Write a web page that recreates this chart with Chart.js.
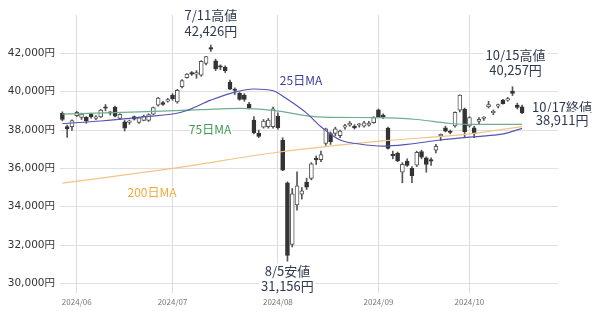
<!DOCTYPE html>
<html>
<head>
<meta charset="utf-8">
<script src="https://cdn.jsdelivr.net/npm/chart.js@4/dist/chart.umd.min.js"></script>
<style>
  html, body { margin: 0; padding: 0; background: #fff; }
  #wrap { width: 600px; height: 311px; }
</style>
</head>
<body>
<div id="wrap"><canvas id="chart"></canvas></div>
<script>
// 日経平均 日足 (2024/05/29 - 2024/10/17)
const dates = [
  '2024-05-29','2024-05-30','2024-05-31',
  '2024-06-03','2024-06-04','2024-06-05','2024-06-06','2024-06-07','2024-06-10','2024-06-11','2024-06-12','2024-06-13','2024-06-14',
  '2024-06-17','2024-06-18','2024-06-19','2024-06-20','2024-06-21','2024-06-24','2024-06-25','2024-06-26','2024-06-27','2024-06-28',
  '2024-07-01','2024-07-02','2024-07-03','2024-07-04','2024-07-05','2024-07-08','2024-07-09','2024-07-10','2024-07-11','2024-07-12',
  '2024-07-16','2024-07-17','2024-07-18','2024-07-19','2024-07-22','2024-07-23','2024-07-24','2024-07-25','2024-07-26','2024-07-29',
  '2024-07-30','2024-07-31',
  '2024-08-01','2024-08-02','2024-08-05','2024-08-06','2024-08-07','2024-08-08','2024-08-09','2024-08-13','2024-08-14','2024-08-15',
  '2024-08-16','2024-08-19','2024-08-20','2024-08-21','2024-08-22','2024-08-23','2024-08-26','2024-08-27','2024-08-28','2024-08-29',
  '2024-08-30',
  '2024-09-02','2024-09-03','2024-09-04','2024-09-05','2024-09-06','2024-09-09','2024-09-10','2024-09-11','2024-09-12','2024-09-13',
  '2024-09-17','2024-09-18','2024-09-19','2024-09-20','2024-09-24','2024-09-25','2024-09-26','2024-09-27','2024-09-30',
  '2024-10-01','2024-10-02','2024-10-03','2024-10-04','2024-10-07','2024-10-08','2024-10-09','2024-10-10','2024-10-11','2024-10-15',
  '2024-10-16','2024-10-17'
];
const opens = [
  38870, 38180, 38170,
  38750, 38660, 38660, 38820, 38610, 38690, 39150, 38900, 39180, 38610,
  38430, 38400, 38700, 38400, 38500, 38500, 38830, 39300, 39430, 39510,
  39820, 39470, 40260, 40730, 41000, 40920, 40860, 41480, 42280, 41610,
  41330, 41270, 40500, 40100, 39910, 39820, 39350, 38520, 37830, 38150,
  38180, 38170,
  38730, 37480, 35250, 32030, 34100, 34650, 35270, 35480, 36520, 36450,
  37300, 37820, 37820, 37700, 38150, 38250, 38200, 38250, 38200, 38250,
  38380,
  39050, 38780, 38100, 36700, 36780, 35800, 36380, 36000, 36170, 36870,
  36550, 36450, 36950, 37700, 38120, 37900, 38220, 39040, 39090,
  38220, 38120, 38450, 38600, 39210, 38900, 39250, 39560, 39560, 40030,
  39300, 39210
];
const highs = [
  38950, 38260, 38530,
  38980, 38880, 38700, 38880, 38760, 39080, 39330, 38960, 39250, 38850,
  38500, 38520, 38730, 38680, 38780, 38850, 39200, 39700, 39500, 39650,
  39900, 40120, 40630, 40950, 41050, 41100, 41620, 41850, 42426, 41700,
  41400, 41350, 40600, 40200, 39960, 39900, 39450, 38700, 38000, 38550,
  38600, 39200,
  38900, 37600, 35300, 34950, 35820, 35000, 35490, 36300, 36650, 36900,
  38100, 37900, 38150, 38000, 38300, 38450, 38280, 38350, 38450, 38450,
  38700,
  39100, 38850, 38150, 36900, 36850, 36300, 36500, 36100, 36900, 36950,
  36600, 36550, 37250, 37800, 38200, 38000, 38950, 39830, 39150,
  38700, 38200, 38650, 38700, 39500, 39050, 39350, 39600, 39700, 40257,
  39400, 39300
];
const lows = [
  38480, 37617, 37980,
  38700, 38550, 38350, 38620, 38540, 38650, 39000, 38780, 38690, 38560,
  37950, 38300, 38520, 38350, 38480, 38450, 38800, 39250, 39280, 39450,
  39550, 39400, 40200, 40700, 40850, 40700, 40800, 41400, 42100, 41100,
  41150, 41000, 40100, 39850, 39550, 39500, 39100, 37800, 37610, 38100,
  38100, 38100,
  38050, 35880, 31156, 31900, 33820, 34400, 34900, 35400, 36200, 36350,
  37200, 37250, 37700, 37600, 38050, 38200, 38050, 38150, 38150, 38200,
  38350,
  38650, 38600, 37000, 36500, 36350, 35247, 36100, 35250, 36100, 36500,
  35800, 36150, 36800, 37450, 37900, 37800, 38150, 38950, 37650,
  38150, 37600, 38300, 38500, 39150, 38800, 39150, 39350, 39500, 39800,
  39100, 38850
];
const closes = [
  38556, 38054, 38487,
  38923, 38837, 38490, 38703, 38683, 39038, 39134, 38876, 38720, 38814,
  38102, 38482, 38570, 38633, 38720, 38804, 39173, 39667, 39341, 39583,
  39631, 40074, 40580, 40913, 40912, 40960, 41580, 41831, 42224, 41190,
  41275, 41097, 40126, 40063, 39599, 39594, 39154, 37869, 37667, 38468,
  38525, 39101,
  38126, 35910, 31458, 34675, 35089, 34831, 35025, 36232, 36442, 36726,
  38062, 37388, 38062, 37951, 38211, 38364, 38110, 38288, 38371, 38362,
  38647,
  38700, 38686, 37047, 36657, 36391, 36215, 36159, 35619, 36833, 36581,
  36203, 36380, 37155, 37723, 37940, 37870, 38925, 39829, 37919,
  38651, 37808, 38552, 38635, 39332, 38937, 39277, 39380, 39605, 39910,
  39180, 38911
];

// 移動平均線 (チャートから読み取り)
const ma25Dates  = ['2024-05-29','2024-06-10','2024-06-21','2024-07-03','2024-07-11','2024-07-19','2024-07-25','2024-07-31','2024-08-05','2024-08-09','2024-08-15','2024-08-21','2024-08-27','2024-09-03','2024-09-10','2024-09-20','2024-10-01','2024-10-09','2024-10-11','2024-10-17'];
const ma25Values = [38340, 38470, 38690, 38940, 39560, 39980, 40140, 40050, 39600, 38880, 38170, 37480, 37270, 37160, 37250, 37480, 37630, 37760, 37850, 38090];
const ma75Dates  = ['2024-05-29','2024-06-20','2024-07-09','2024-07-22','2024-08-02','2024-08-08','2024-08-19','2024-09-02','2024-09-12','2024-09-25','2024-10-03','2024-10-17'];
const ma75Values = [38830, 38950, 39060, 39130, 38960, 38780, 38660, 38650, 38550, 38340, 38290, 38300];
const ma200Dates  = ['2024-05-29','2024-07-01','2024-08-01','2024-09-03','2024-10-01','2024-10-17'];
const ma200Values = [35230, 36000, 36840, 37430, 37800, 38180];

const yTicks = [30000, 32000, 34000, 36000, 38000, 40000, 42000];
const monthStarts = ['2024-06-03', '2024-07-01', '2024-08-01', '2024-09-02', '2024-10-01'];
const monthLabels = ['2024/06', '2024/07', '2024/08', '2024/09', '2024/10'];

const noteDates  = ['2024-07-11', '2024-08-05', '2024-10-15', '2024-10-17'];
const noteValues = [42426, 31156, 40257, 38911];
const noteTexts  = [['7/11高値', '42,426円'], ['8/5安値', '31,156円'], ['10/15高値', '40,257円'], ['10/17終値', '38,911円']];
const maNames = ['25日MA', '75日MA', '200日MA'];

// empty slots on the right for the closing label
const labels = dates.concat(['', '', '', '', '', '', '']);

const FONT = '"Noto Sans CJK JP", "Noto Sans", sans-serif';
const upFill = '#ffffff', downFill = '#333333';

const wickData = dates.map((d, i) => [lows[i], highs[i]]);
const bodyData = dates.map((d, i) => [opens[i], closes[i]]);
const isUp = dates.map((d, i) => closes[i] >= opens[i]);

const textPlugin = {
  id: 'notes',
  afterDatasetsDraw(chart) {
    const ctx = chart.ctx, xs = chart.scales.x, ys = chart.scales.y;
    const offs = [[0, -30, 15.5], [0, 10, 15], [3, -32, 15.5], [40, -5.5, 13]]; // dx, dy, line gap
    ctx.save();
    ctx.font = '13px ' + FONT;
    ctx.textAlign = 'center';
    ctx.textBaseline = 'middle';
    noteDates.forEach((d, i) => {
      const x = xs.getPixelForValue(dates.indexOf(d)) + offs[i][0];
      const y = ys.getPixelForValue(noteValues[i]) + offs[i][1];
      noteTexts[i].forEach((t, j) => {
        const ty = y + j * offs[i][2];
        const w = ctx.measureText(t).width;
        ctx.fillStyle = '#fff';
        ctx.fillRect(x - w / 2 - 2, ty - 8, w + 4, 16);
        ctx.fillStyle = '#2f3a4f';
        ctx.fillText(t, x, ty);
      });
    });
    // MA labels
    const maPos = [[301, 80], [210, 129], [152, 192]];
    const maCol = ['#3c3ca0', '#3f9a4f', '#f0aa3c'];
    ctx.font = '12px ' + FONT;
    maNames.forEach((t, i) => {
      ctx.lineWidth = 3;
      ctx.strokeStyle = 'rgba(255,255,255,0.9)';
      ctx.strokeText(t, maPos[i][0], maPos[i][1]);
      ctx.fillStyle = maCol[i];
      ctx.fillText(t, maPos[i][0], maPos[i][1]);
    });
    ctx.restore();
  }
};

new Chart(document.getElementById('chart'), {
  type: 'bar',
  data: {
    labels: labels,
    datasets: [
      { type: 'line', label: '25日MA', data: ma25Dates.map((d, i) => ({ x: d, y: ma25Values[i] })),
        borderColor: '#5454b4', borderWidth: 1.2, pointRadius: 0, cubicInterpolationMode: 'monotone', order: 0 },
      { type: 'line', label: '75日MA', data: ma75Dates.map((d, i) => ({ x: d, y: ma75Values[i] })),
        borderColor: '#6fae8c', borderWidth: 1.2, pointRadius: 0, cubicInterpolationMode: 'monotone', order: 0 },
      { type: 'line', label: '200日MA', data: ma200Dates.map((d, i) => ({ x: d, y: ma200Values[i] })),
        borderColor: '#f2c48a', borderWidth: 1.2, pointRadius: 0, cubicInterpolationMode: 'monotone', order: 0 },
      { label: 'body', data: bodyData, grouped: false, barThickness: 4, minBarLength: 1.5,
        backgroundColor: isUp.map(u => u ? upFill : downFill),
        borderColor: isUp.map(u => u ? '#555' : '#333'),
        borderWidth: 1, borderSkipped: false, order: 1 },
      { label: 'wick', data: wickData, grouped: false, barThickness: 1,
        backgroundColor: '#555', order: 2 }
    ]
  },
  options: {
    responsive: true,
    maintainAspectRatio: false,
    animation: false,
    devicePixelRatio: 1,
    layout: { padding: { left: 0, right: 42, top: 15, bottom: 0 } },
    plugins: { legend: { display: false }, tooltip: { enabled: false } },
    scales: {
      x: {
        border: { display: false },
        grid: { offset: false, color: '#dcdcdc', drawTicks: false },
        ticks: {
          autoSkip: false, maxRotation: 0, padding: 4,
          color: '#777', font: { family: FONT, size: 8 },
          callback: (v, i) => {
            const k = monthStarts.indexOf(dates[i]);
            return k >= 0 ? monthLabels[k] : null;
          }
        },
        afterFit: s => { s.height = 18; }
      },
      y: {
        min: 29500, max: 44000,
        border: { display: false },
        grid: { color: '#e0e0e0', drawTicks: false },
        ticks: {
          padding: 5, color: '#333', font: { family: '"DejaVu Sans", "Noto Sans CJK JP", sans-serif', size: 10.5 },
          callback: v => v.toLocaleString('en-US') + '円'
        },
        afterBuildTicks: s => { s.ticks = yTicks.map(v => ({ value: v })); },
        afterFit: s => { s.width = 60; }
      }
    }
  },
  plugins: [textPlugin]
});
</script>
</body>
</html>
